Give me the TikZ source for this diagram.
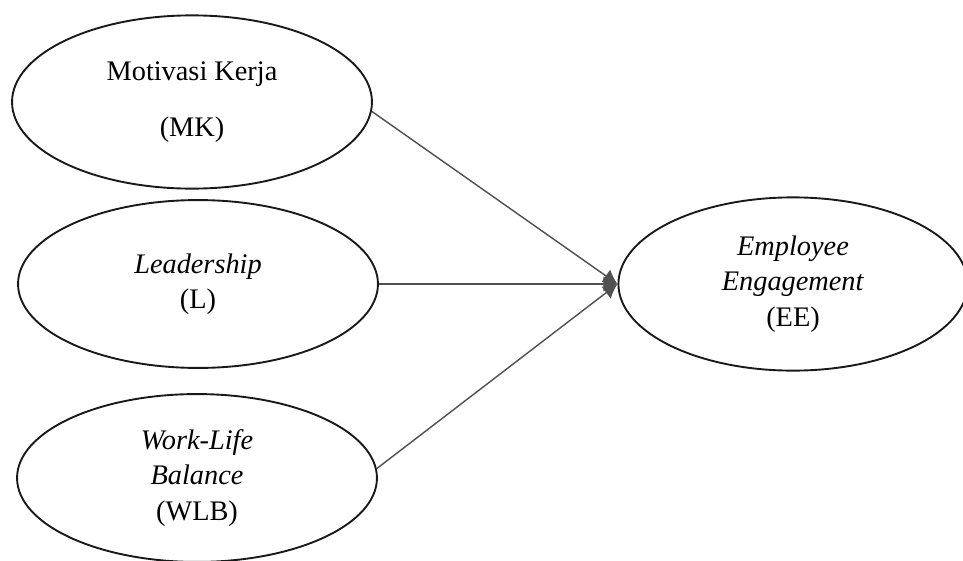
\documentclass[tikz,border=0pt]{standalone}
\usepackage{fontspec}
\setmainfont{Liberation Serif}
\usepackage{tikz}
\usetikzlibrary{
  arrows.meta,
  shapes.geometric
}
\definecolor{EdgeBlack}{RGB}{25,25,25}
\definecolor{PathGray}{RGB}{80,80,80}
\tikzset{
  construct/.style={
    ellipse,
    draw=EdgeBlack,
    line width=0.8pt,
    inner sep=0pt,
    minimum width=5.36cm,
    minimum height=2.5cm,
    align=center,
    font=\fontsize{12}{15}\selectfont
  },
  pathline/.style={-{Latex[length=6pt,width=6.5pt]},line width=0.6pt,draw=PathGray}
}
\begin{document}
\begin{tikzpicture}[x=0.01489cm,y=-0.01489cm]
  \useasboundingbox (0,0) rectangle (963,561);

  \node[construct, minimum height=2.58cm] (mk) at (192,102) {Motivasi Kerja\\[3mm](MK)};
  \node[construct] (l) at (198,284) {\textit{Leadership}\\(L)};
  \node[construct] (wlb) at (197,478) {\textit{Work-Life}\\\textit{Balance}\\(WLB)};
  \node[construct, minimum width=5.2cm, minimum height=2.58cm] (ee) at (793,284)
    {\textit{Employee}\\\textit{Engagement}\\(EE)};

  \draw[pathline] (mk.-3) -- (ee.west);
  \draw[pathline] (l.east) -- (ee.west);
  \draw[pathline] (wlb.3) -- (ee.west);
\end{tikzpicture}
\end{document}
